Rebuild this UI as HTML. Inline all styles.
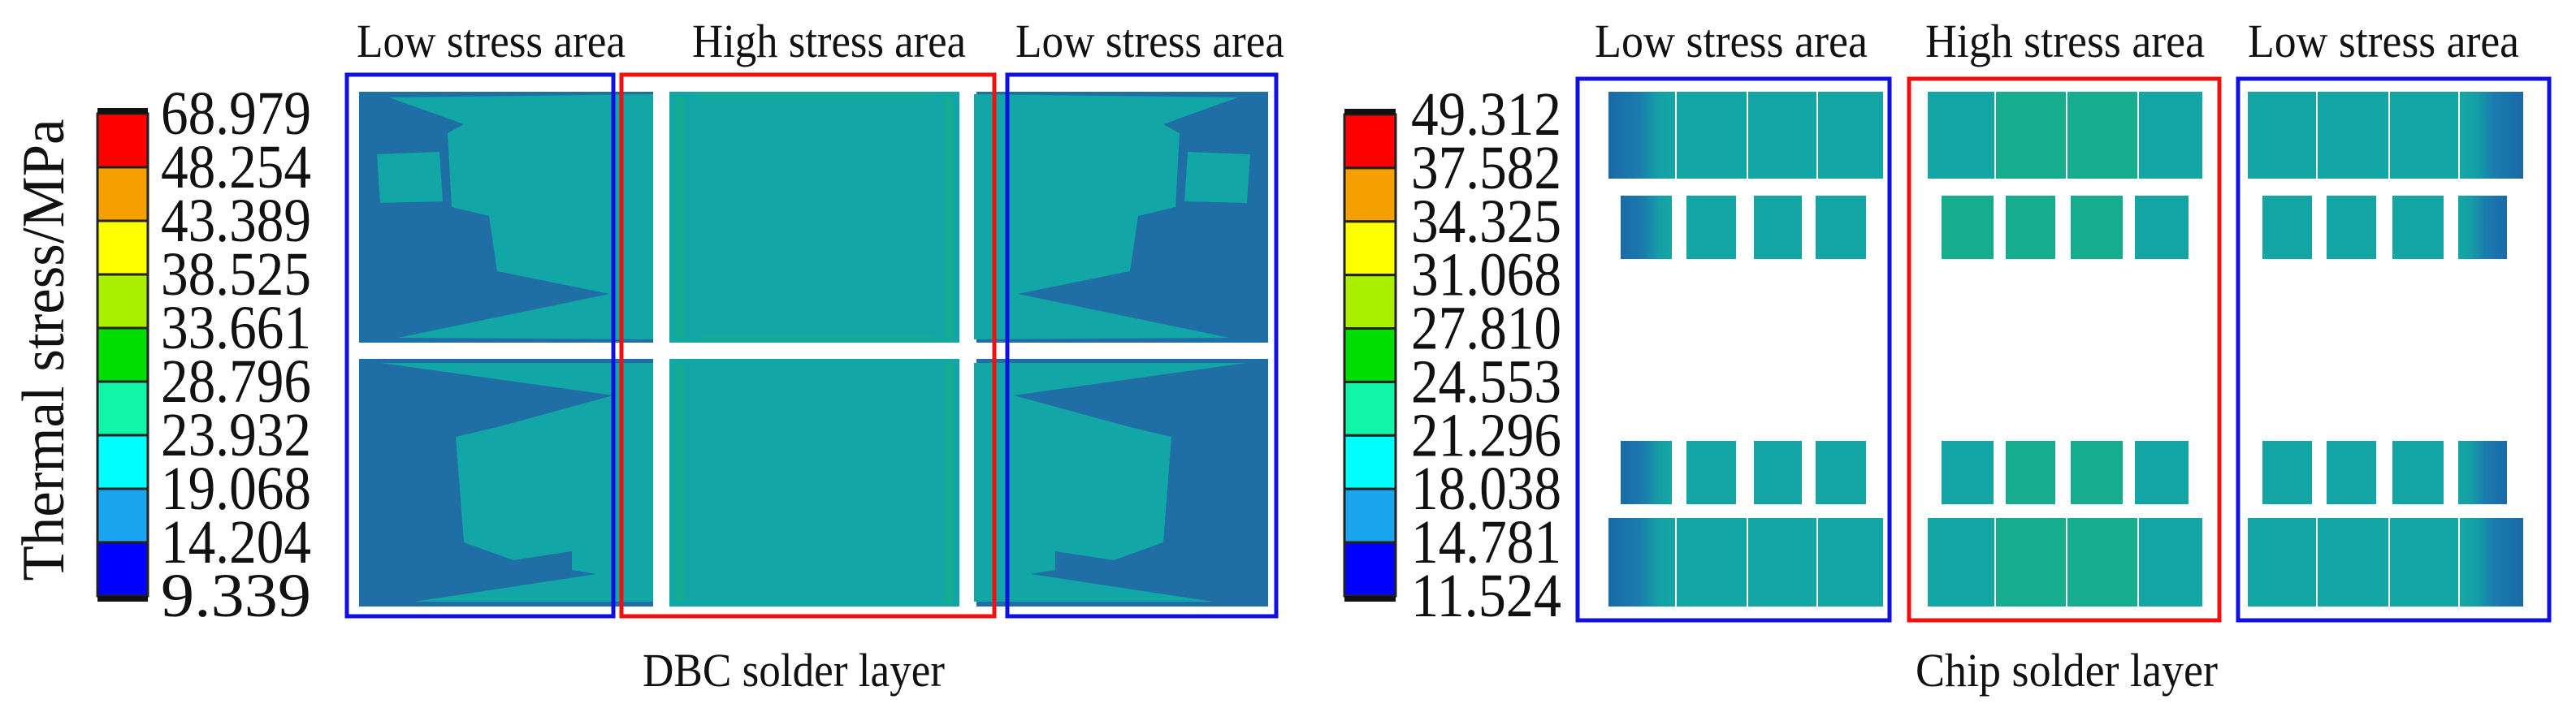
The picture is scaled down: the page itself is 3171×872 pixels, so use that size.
<!DOCTYPE html>
<html><head><meta charset="utf-8"><style>
html,body{margin:0;padding:0;background:#fff;}
svg{display:block;}
text{font-family:"Liberation Serif",serif;fill:#111;}
</style></head><body>
<svg id="fig" width="3171" height="872" viewBox="0 0 3171 872" xmlns="http://www.w3.org/2000/svg">
<defs>
<linearGradient id="gL" x1="0" x2="1" y1="0" y2="0"><stop offset="0" stop-color="#1a6aa8"/><stop offset="0.45" stop-color="#1b7bae"/><stop offset="0.75" stop-color="#14a0a6"/><stop offset="1" stop-color="#14a6a4"/></linearGradient>
<linearGradient id="gR" x1="1" x2="0" y1="0" y2="0"><stop offset="0" stop-color="#1a6aa8"/><stop offset="0.45" stop-color="#1b7bae"/><stop offset="0.75" stop-color="#14a0a6"/><stop offset="1" stop-color="#14a6a4"/></linearGradient>
</defs>
<text x="0" y="0" transform="translate(78,431) rotate(-90)" text-anchor="middle" font-size="74" textLength="569" lengthAdjust="spacingAndGlyphs">Thermal stress/MPa</text>

<g>
  <g id="dbc-contour"></g>
  <rect x="427" y="92" width="328" height="667" fill="none" stroke="#1010e0" stroke-width="5"/>
  <rect x="765" y="92" width="459" height="667" fill="none" stroke="#ee1111" stroke-width="5"/>
  <rect x="1240" y="92" width="331" height="667" fill="none" stroke="#1010e0" stroke-width="5"/>
  <text x="439" y="70" font-size="58" textLength="331" lengthAdjust="spacingAndGlyphs">Low stress area</text>
  <text x="852" y="70" font-size="58" textLength="337" lengthAdjust="spacingAndGlyphs">High stress area</text>
  <text x="1250" y="70" font-size="58" textLength="331" lengthAdjust="spacingAndGlyphs">Low stress area</text>
  <text x="791" y="845" font-size="58" textLength="372" lengthAdjust="spacingAndGlyphs">DBC solder layer</text>
</g>

<g>
  <g id="chip-cells"></g>
  <rect x="1942" y="97" width="384" height="667" fill="none" stroke="#1010e0" stroke-width="5"/>
  <rect x="2350" y="97" width="382" height="667" fill="none" stroke="#ee1111" stroke-width="5"/>
  <rect x="2755" y="97" width="383" height="667" fill="none" stroke="#1010e0" stroke-width="5"/>
  <text x="1963" y="70" font-size="58" textLength="336" lengthAdjust="spacingAndGlyphs">Low stress area</text>
  <text x="2370" y="70" font-size="58" textLength="344" lengthAdjust="spacingAndGlyphs">High stress area</text>
  <text x="2767" y="70" font-size="58" textLength="334" lengthAdjust="spacingAndGlyphs">Low stress area</text>
  <text x="2358" y="845" font-size="58" textLength="372" lengthAdjust="spacingAndGlyphs">Chip solder layer</text>
</g>
<g id="cbars"></g>
</svg>
<script>
// colorbar data
const colorBands = ["#0000ff","#19a6ee","#00ffff","#10f5a8","#00dd00","#aaee00","#ffff00","#f5a000","#ff0000"];
const dbcTicks = ["68.979","48.254","43.389","38.525","33.661","28.796","23.932","19.068","14.204","9.339"];
const chipTicks = ["49.312","37.582","34.325","31.068","27.810","24.553","21.296","18.038","14.781","11.524"];
// chip cell stress category: 0=dark on left edge,1=teal,2=green-teal,3=dark on right edge
const chipRow1 = [0,1,1,1, 1,2,2,1, 1,1,1,3];
const chipRow2 = [0,1,1,1, 2,2,2,1, 1,1,1,3];
const chipRow3 = [0,1,1,1, 1,2,2,1, 1,1,1,3];
const chipRow4 = [0,1,1,1, 1,2,2,1, 1,1,1,3];

const NS="http://www.w3.org/2000/svg";
const svg=document.getElementById('fig');
function mk(tag,attrs,parent){const e=document.createElementNS(NS,tag);for(const k in attrs)e.setAttribute(k,attrs[k]);(parent||svg).appendChild(e);return e;}

function colorbar(x0,w,yTop,yBot,labX,ticks,name){
  const g=mk('g',{},document.getElementById('cbars'));
  
  
  const n=ticks.length-1;
  const yScale=i=>yTop+(yBot-yTop)*i/n;
  for(let i=0;i<n;i++){
    const c=colorBands[colorBands.length-1-i];
    const r=mk('rect',{x:x0,y:yScale(i),width:w,height:yScale(i+1)-yScale(i),fill:c,stroke:'#222','stroke-width':3},g);
    
    
  }
  mk('rect',{x:x0,y:yTop-7,width:w,height:7,fill:'#111'},g);
  mk('rect',{x:x0,y:yBot,width:w,height:7,fill:'#111'},g);
  ticks.forEach((t,i)=>{
    const tx=mk('text',{x:labX,y:yScale(i)+25,'font-size':76,textLength:185,lengthAdjust:'spacingAndGlyphs'},g);
    tx.textContent=t;
    
    
  });
}
colorbar(120,62,140,734,198,dbcTicks,'dbc-colorbar');
colorbar(1655,63,141,734,1737,chipTicks,'chip-colorbar');

// DBC contour map
const dg=document.getElementById('dbc-contour');
const DB="#1f6ea6", TE="#12a6a6", GR="#16ae8c";
function quad(x,y,w,h,fill){return mk('rect',{x,y,width:w,height:h,fill},dg);}
quad(442,113,362,309,DB);quad(442,442,362,305,DB);
quad(824,113,357,309,TE);quad(824,442,357,305,TE);
quad(1202,113,359,309,DB);quad(1202,442,359,305,DB);
const tlPoly=[[479,120],[804,116],[804,418],[490,416],[750,362],[612,334],[602,266],[556,255],[551,164],[571,153]];
const tlBlob=[[464,190],[541,187],[545,248],[468,250]];
const blPoly=[[469,447],[804,447],[804,741],[510,741],[734,707],[704,702],[704,679],[632,690],[571,668],[561,538],[612,526],[755,487]];
function poly(pts,fill){return mk('polygon',{points:pts.map(p=>p.join(',')).join(' '),fill},dg);}
function mirror(pts){return pts.map(p=>[2003-p[0],p[1]]);}
[tlPoly,tlBlob,blPoly].forEach(p=>{poly(p,TE);poly(mirror(p),TE);});
[[832,118,10,300],[1162,118,10,300],[832,447,10,295],[1162,447,10,295]].forEach(r=>{mk('rect',{x:r[0],y:r[1],width:r[2],height:r[3],fill:GR,opacity:0.7},dg);});
mk('rect',{x:860,y:115,width:290,height:6,fill:GR,opacity:0.6},dg);
mk('rect',{x:860,y:413,width:290,height:6,fill:GR,opacity:0.6},dg);

// chip cells
const cg=document.getElementById('chip-cells');
const cellColors=["url(#gL)","#14a6a4","#16ad8e","url(#gR)"];
const wideX=[[1980,82],[2064,86],[2152,84],[2238,80],[2373,82],[2457,86],[2545,86],[2633,78],[2767,84],[2853,87],[2942,84],[3028,78]];
const narrowX=[[1995,63],[2076,61],[2159,59],[2235,62],[2390,64],[2469,61],[2549,64],[2628,66],[2785,61],[2864,61],[2945,63],[3026,60]];
function row(vals,xs,y,h){
  vals.forEach((v,i)=>{
    const r=mk('rect',{x:xs[i][0],y:y,width:xs[i][1],height:h,fill:cellColors[v]},cg);
    
    
  });
}
row(chipRow1,wideX,113,107);
row(chipRow2,narrowX,241,78);
row(chipRow3,narrowX,543,78);
row(chipRow4,wideX,638,109);
</script>
</body></html>
